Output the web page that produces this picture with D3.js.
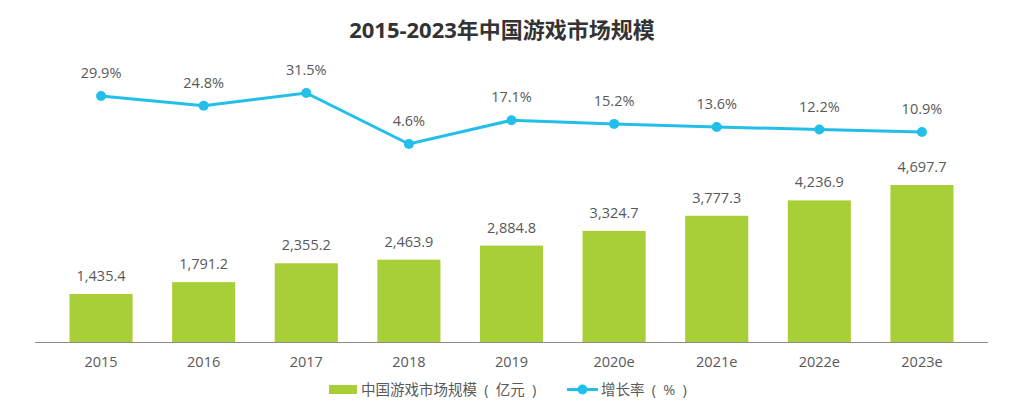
<!DOCTYPE html>
<html><head><meta charset="utf-8">
<script src="https://cdn.jsdelivr.net/npm/d3@7"></script>
<style>
body{margin:0;background:#fff;}
text{font-family:"Open Sans","Noto Sans CJK SC",sans-serif;}
</style></head>
<body>
<svg id="c" width="1009" height="410"></svg>
<script>
const categories = ["2015","2016","2017","2018","2019","2020e","2021e","2022e","2023e"];
const marketSize = [1435.4,1791.2,2355.2,2463.9,2884.8,3324.7,3777.3,4236.9,4697.7];
const growthRate = [29.9,24.8,31.5,4.6,17.1,15.2,13.6,12.2,10.9];
const title = "2015-2023年中国游戏市场规模";
const legendLabels = ["中国游戏市场规模\u2002(\u2002亿元\u2002)","增长率\u2002(\u2002%\u2002)"];

const barColor = "#a9cf38", lineColor = "#21bfe9", textColor = "#595959";
const svg = d3.select("#c");

const x = d3.scaleBand().domain(categories).range([50, 973]).paddingInner(0.385).paddingOuter(0.19);
const yBar = d3.scaleLinear().domain([0, 4697.7]).range([342, 185]);
const yLine = d3.scaleLinear().domain([0, 31.5]).range([152.7, 93]);

svg.append("text").attr("x", 502).attr("y", 38).attr("text-anchor","middle")
  .attr("font-size", 22).attr("font-weight", "bold").attr("fill", "#333")
  .text(title);

svg.selectAll("rect.bar").data(categories).join("rect").attr("class","bar")
  .attr("x", d => x(d)).attr("width", x.bandwidth())
  .attr("y", (d,i) => yBar(marketSize[i]))
  .attr("height", (d,i) => yBar(0) - yBar(marketSize[i]))
  .attr("fill", barColor);

const fmt = d3.format(",.1f");
svg.selectAll("text.bl").data(categories).join("text").attr("class","bl")
  .attr("x", d => x(d) + x.bandwidth()/2)
  .attr("y", (d,i) => yBar(marketSize[i]) - 13)
  .attr("text-anchor","middle").attr("font-size", 14.5).attr("fill", textColor)
  .text((d,i) => fmt(marketSize[i]));

// axis
const xAxis = svg.append("g").attr("transform","translate(0,342)")
  .call(d3.axisBottom(x).tickSize(0).tickPadding(15));
xAxis.select(".domain").attr("stroke","#8c8c8c").attr("d","M35,0.5H988");
xAxis.selectAll("text").attr("font-size",14.5).attr("fill",textColor)
  .style("font-family","\"Open Sans\",\"Noto Sans CJK SC\",sans-serif");

// line
const line = d3.line().x((d,i) => x(categories[i]) + x.bandwidth()/2).y(d => yLine(d));
svg.append("path").datum(growthRate).attr("d", line)
  .attr("fill","none").attr("stroke", lineColor).attr("stroke-width", 3);
svg.selectAll("circle.dot").data(growthRate).join("circle").attr("class","dot")
  .attr("cx", (d,i) => x(categories[i]) + x.bandwidth()/2)
  .attr("cy", d => yLine(d)).attr("r", 5).attr("fill", lineColor);
svg.selectAll("text.ll").data(growthRate).join("text").attr("class","ll")
  .attr("x", (d,i) => x(categories[i]) + x.bandwidth()/2)
  .attr("y", d => yLine(d) - 18)
  .attr("text-anchor","middle").attr("font-size", 14.5).attr("fill", textColor)
  .text(d => d.toFixed(1) + "%");

// legend
const lg = svg.append("g");
lg.append("rect").attr("x", 329).attr("y", 385).attr("width", 28).attr("height", 9).attr("fill", barColor);
lg.append("text").attr("x", 361).attr("y", 395).attr("font-size", 14.5).attr("fill", textColor).text(legendLabels[0]);
lg.append("line").attr("x1", 567).attr("x2", 598).attr("y1", 389.5).attr("y2", 389.5)
  .attr("stroke", lineColor).attr("stroke-width", 3);
lg.append("circle").attr("cx", 582.5).attr("cy", 389.5).attr("r", 5).attr("fill", lineColor);
lg.append("text").attr("x", 601).attr("y", 395).attr("font-size", 14.5).attr("fill", textColor).text(legendLabels[1]);
</script>
</body></html>
